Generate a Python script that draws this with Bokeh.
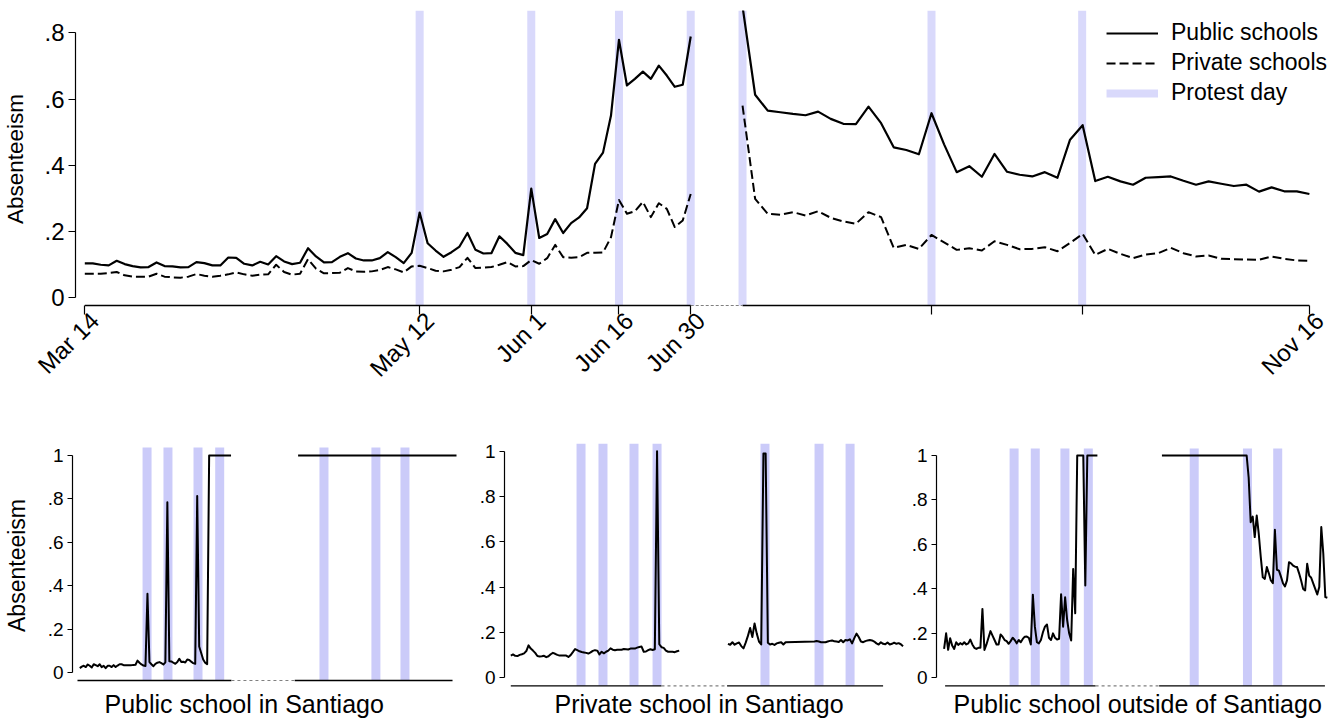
import math
from bokeh.plotting import figure
from bokeh.layouts import column, row
from bokeh.models import (Range1d, FixedTicker, CustomJSTickFormatter, Legend,
                          LegendItem, Title, LinearAxis)
from bokeh.embed import file_html
from bokeh.resources import INLINE

FONT = "Liberation Sans"
BAND_TOP = "#d9d9fb"
BAND_BOT = "#cbcbf9"

# ---------------- top panel data (x = school-day index) ----------------
TICK_POS = [0, 42, 56, 67, 76, 106.2, 125.1, 153.6]
TICK_LABELS = ["Mar 14", "May 12", "Jun 1", "Jun 16", "Jun 30", "", "", "Nov 16"]
PROTEST_TOP = [42, 56, 67, 76, 82.5, 106.2, 125.1]

x_seg1 = list(range(77))
pub_seg1 = [0.103, 0.103, 0.099, 0.097, 0.111, 0.101, 0.095, 0.091, 0.092, 0.106,
            0.095, 0.094, 0.091, 0.092, 0.107, 0.104, 0.097, 0.097, 0.121, 0.120,
            0.102, 0.097, 0.108, 0.100, 0.125, 0.109, 0.101, 0.105, 0.149, 0.124,
            0.106, 0.107, 0.123, 0.134, 0.118, 0.112, 0.112, 0.119, 0.137, 0.122,
            0.104, 0.135, 0.257, 0.164, 0.142, 0.123, 0.137, 0.154, 0.195, 0.144,
            0.133, 0.134, 0.185, 0.162, 0.135, 0.128, 0.329, 0.180, 0.192, 0.237,
            0.195, 0.225, 0.242, 0.270, 0.404, 0.438, 0.550, 0.779, 0.641, 0.661,
            0.683, 0.661, 0.701, 0.671, 0.637, 0.643, 0.789]
priv_seg1 = [0.072, 0.072, 0.072, 0.074, 0.077, 0.067, 0.063, 0.063, 0.063, 0.072,
             0.063, 0.061, 0.060, 0.063, 0.071, 0.066, 0.063, 0.066, 0.070, 0.076,
             0.070, 0.066, 0.069, 0.070, 0.099, 0.077, 0.069, 0.072, 0.116, 0.087,
             0.073, 0.074, 0.075, 0.089, 0.079, 0.078, 0.079, 0.083, 0.092, 0.085,
             0.076, 0.094, 0.096, 0.089, 0.081, 0.079, 0.084, 0.092, 0.120, 0.089,
             0.090, 0.092, 0.099, 0.107, 0.094, 0.095, 0.113, 0.102, 0.119, 0.159,
             0.122, 0.120, 0.122, 0.135, 0.135, 0.136, 0.182, 0.295, 0.253, 0.261,
             0.289, 0.243, 0.285, 0.268, 0.213, 0.233, 0.313]

x_seg2 = [82.5 + k * (153.6 - 82.5) / 45 for k in range(46)]
pub_seg2 = [0.88, 0.613, 0.565, 0.560, 0.555, 0.551, 0.562, 0.540, 0.525, 0.524,
            0.577, 0.527, 0.454, 0.446, 0.433, 0.557, 0.463, 0.379, 0.397, 0.365,
            0.434, 0.380, 0.371, 0.366, 0.379, 0.362, 0.477, 0.521, 0.352, 0.365,
            0.351, 0.341, 0.362, 0.364, 0.366, 0.353, 0.341, 0.351, 0.344, 0.337,
            0.341, 0.320, 0.333, 0.321, 0.321, 0.313]
priv_seg2 = [0.580, 0.298, 0.253, 0.250, 0.258, 0.248, 0.261, 0.241, 0.230, 0.223,
             0.258, 0.243, 0.150, 0.159, 0.147, 0.189, 0.167, 0.144, 0.149, 0.142,
             0.170, 0.159, 0.146, 0.147, 0.152, 0.140, 0.165, 0.192, 0.129, 0.147,
             0.132, 0.119, 0.130, 0.134, 0.150, 0.134, 0.124, 0.127, 0.117, 0.116,
             0.115, 0.114, 0.124, 0.117, 0.112, 0.111]
TOP_AXIS_SOLID = [(0, 76), (82.5, 153.6)]
TOP_AXIS_GAP = (76, 82.5)

# ---------------- bottom panels (x = day index) ----------------
P1_TITLE = "Public school in Santiago"
p1_x1 = list(range(77))
p1_y1 = [0.020, 0.027, 0.031, 0.025, 0.037, 0.031, 0.023, 0.038, 0.034, 0.029,
         0.038, 0.025, 0.031, 0.020, 0.031, 0.031, 0.025, 0.034, 0.025, 0.032,
         0.038, 0.038, 0.034, 0.034, 0.034, 0.034, 0.034, 0.035, 0.036, 0.055,
         0.045, 0.037, 0.032, 0.030, 0.363, 0.048, 0.038, 0.029, 0.040, 0.045,
         0.048, 0.043, 0.037, 0.047, 0.785, 0.052, 0.051, 0.045, 0.040, 0.048,
         0.063, 0.048, 0.050, 0.046, 0.060, 0.058, 0.050, 0.043, 0.040, 0.813,
         0.120, 0.090, 0.060, 0.045, 0.038, 1.0, 1.0, 1.0, 1.0, 1.0,
         1.0, 1.0, 1.0, 1.0, 1.0, 1.0, 1.0]
p1_x2 = [109.7, 189.3]
p1_y2 = [1.0, 1.0]
p1_protest = [33.8, 44.3, 59.4, 70.3, 122.7, 148.8, 163.4]
p1_axis_solid = [(-1.16, 76.2), (108.0, 187.3)]
p1_axis_gap = (76.2, 108.0)

P2_TITLE = "Private school in Santiago"
p2_x1 = list(range(77))
p2_y1 = [0.098, 0.103, 0.097, 0.096, 0.101, 0.104, 0.108, 0.118, 0.143, 0.129,
         0.120, 0.110, 0.096, 0.094, 0.095, 0.097, 0.091, 0.095, 0.104, 0.110,
         0.106, 0.101, 0.098, 0.098, 0.098, 0.098, 0.092, 0.100, 0.113, 0.127,
         0.122, 0.117, 0.114, 0.112, 0.110, 0.107, 0.112, 0.119, 0.122, 0.120,
         0.103, 0.115, 0.108, 0.115, 0.120, 0.130, 0.124, 0.122, 0.124, 0.124,
         0.124, 0.127, 0.126, 0.125, 0.129, 0.129, 0.129, 0.133, 0.136, 0.138,
         0.115, 0.116, 0.122, 0.126, 0.123, 0.126, 1.0, 0.148, 0.135, 0.132,
         0.120, 0.115, 0.115, 0.115, 0.113, 0.117, 0.120]
p2_x2 = list(range(98, 125)) + list(range(137, 178))
p2_y2 = [0.150, 0.146, 0.157, 0.146, 0.152, 0.156, 0.140, 0.130, 0.155, 0.185,
         0.220, 0.180, 0.240, 0.195, 0.160, 0.147, 0.99, 0.99, 0.155, 0.147,
         0.150, 0.145, 0.152, 0.155, 0.157, 0.147, 0.157,
         0.160, 0.162, 0.160, 0.157, 0.157, 0.157, 0.160, 0.163, 0.165, 0.161,
         0.160, 0.158, 0.167, 0.157, 0.167, 0.165, 0.170, 0.152, 0.175, 0.195,
         0.180, 0.160, 0.157, 0.162, 0.165, 0.167, 0.165, 0.160, 0.152, 0.147,
         0.157, 0.150, 0.148, 0.156, 0.147, 0.150, 0.155, 0.150, 0.153, 0.148,
         0.139]
p2_protest = [31.7, 41.6, 55.6, 66.0, 114.7, 139.1, 153.1]
p2_axis_solid = [(0, 68.0), (97.6, 168.0)]
p2_axis_gap = (68.0, 97.6)

P3_TITLE = "Public school outside of Santiago"
p3_x1 = list(range(77))
p3_y1 = [0.130, 0.200, 0.126, 0.178, 0.145, 0.130, 0.160, 0.148, 0.156, 0.150,
         0.160, 0.150, 0.155, 0.172, 0.150, 0.135, 0.130, 0.135, 0.135, 0.310,
         0.125, 0.150, 0.180, 0.210, 0.190, 0.170, 0.150, 0.150, 0.195, 0.185,
         0.170, 0.165, 0.153, 0.165, 0.180, 0.170, 0.155, 0.170, 0.160, 0.175,
         0.185, 0.186, 0.180, 0.150, 0.374, 0.230, 0.160, 0.155, 0.170, 0.205,
         0.230, 0.240, 0.180, 0.170, 0.200, 0.180, 0.172, 0.175, 0.376, 0.230,
         0.362, 0.260, 0.200, 0.168, 0.490, 0.290, 1.0, 1.0, 1.0, 1.0,
         0.415, 1.0, 1.0, 1.0, 1.0, 1.0, 1.0]
p3_x2 = [108, 150] + list(range(151, 191))
p3_y2 = [1.0, 1.0,
         0.90, 0.70, 0.725, 0.633, 0.730, 0.647, 0.543, 0.452, 0.445, 0.498,
         0.470, 0.438, 0.426, 0.666, 0.486, 0.482, 0.455, 0.425, 0.411, 0.438,
         0.520, 0.515, 0.505, 0.500, 0.498, 0.470, 0.438, 0.400, 0.393, 0.513,
         0.460, 0.450, 0.425, 0.400, 0.375, 0.408, 0.678, 0.558, 0.363, 0.360]
p3_protest = [34.7, 45.2, 59.9, 71.5, 124.0, 150.4, 165.4]
p3_axis_solid = [(0.5, 75.1), (106.6, 188.8)]
p3_axis_gap = (75.1, 106.6)

Y_TICKS_TOP = [0, 0.2, 0.4, 0.6, 0.8]
Y_TICKS_BOT = [0, 0.2, 0.4, 0.6, 0.8, 1.0]

FMT_CODE = """
const v = Math.round(tick * 10) / 10;
let s = v.toString();
if (s.startsWith("0.")) { s = s.slice(1); }
return s;
"""


def join(xa, ya, xb, yb):
    return list(xa) + [float("nan")] + list(xb), list(ya) + [float("nan")] + list(yb)


def base_fig(fw, fh, xr, yr, ml, mr, mt, mb):
    p = figure(frame_width=fw, frame_height=fh, x_range=Range1d(*xr), y_range=Range1d(*yr),
               min_border_left=ml, min_border_right=mr, min_border_top=mt, min_border_bottom=mb,
               output_backend="svg", toolbar_location=None)
    p.title.visible = False
    p.grid.visible = False
    p.outline_line_color = None
    p.background_fill_color = "white"
    p.border_fill_color = "white"
    return p


def style_yaxis(p, ticks, bounds, label, tick_len, label_size, title_size, title_standoff):
    ax = p.yaxis[0]
    ax.ticker = FixedTicker(ticks=ticks)
    ax.formatter = CustomJSTickFormatter(code=FMT_CODE)
    ax.bounds = bounds
    ax.axis_line_width = 1.2
    ax.major_tick_line_width = 1.2
    ax.major_tick_out = tick_len
    ax.major_tick_in = 0
    ax.minor_tick_line_color = None
    ax.major_label_standoff = 4
    ax.major_label_text_font = FONT
    ax.major_label_text_font_size = label_size
    ax.major_label_text_color = "black"
    if label:
        ax.axis_label = label
        ax.axis_label_text_font = FONT
        ax.axis_label_text_font_size = title_size
        ax.axis_label_text_font_style = "normal"
        ax.axis_label_text_color = "black"
        ax.axis_label_standoff = title_standoff


# ---------------- top figure ----------------
X0_TOP, X1_TOP = -1.166, 157.0
Y0_TOP, Y1_TOP = -0.0302, 0.8676
AXIS_Y_TOP = -0.0242
LABEL_SHIFT = 1.25   # date labels sit slightly right of their tick (about 10 px)
top = base_fig(1261, 297, (X0_TOP, X1_TOP), (Y0_TOP, Y1_TOP), 75, 7, 10, 123)

r_band = top.segment(x0=PROTEST_TOP, x1=PROTEST_TOP, y0=[AXIS_Y_TOP] * len(PROTEST_TOP),
                     y1=[Y1_TOP] * len(PROTEST_TOP), line_width=8, line_color=BAND_TOP)
top.segment(x0=[a for a, b in TOP_AXIS_SOLID], x1=[b for a, b in TOP_AXIS_SOLID],
            y0=[AXIS_Y_TOP] * 2, y1=[AXIS_Y_TOP] * 2, line_width=1.3, line_color="black")
top.segment(x0=[TOP_AXIS_GAP[0]], x1=[TOP_AXIS_GAP[1]], y0=[AXIS_Y_TOP], y1=[AXIS_Y_TOP],
            line_width=1.2, line_color="#808080", line_dash="3 2")

xp, yp = join(x_seg1, pub_seg1, x_seg2, pub_seg2)
r_pub = top.line(xp, yp, line_width=2.2, line_color="black", line_join="round")
xq, yq = join(x_seg1, priv_seg1, x_seg2, priv_seg2)
r_priv = top.line(xq, yq, line_width=2.0, line_color="black", line_dash="9 4", line_join="round")

# tick marks only
xa = top.xaxis[0]
xa.ticker = FixedTicker(ticks=TICK_POS)
xa.formatter = CustomJSTickFormatter(code='return "";')
xa.axis_line_color = None
xa.major_tick_line_width = 1.2
xa.major_tick_out = 7
xa.major_tick_in = 2
xa.minor_tick_line_color = None
xa.major_label_text_font_size = "1px"
xa.major_label_standoff = 0

# rotated date labels on a second axis (shifted range so labels end right of tick)
top.extra_x_ranges = {"lab": Range1d(X0_TOP - LABEL_SHIFT, X1_TOP - LABEL_SHIFT)}
lab_pos = [p for p, l in zip(TICK_POS, TICK_LABELS) if l]
lab_txt = [l for l in TICK_LABELS if l]
xl = LinearAxis(x_range_name="lab", ticker=FixedTicker(ticks=lab_pos),
                formatter=CustomJSTickFormatter(args=dict(pos=lab_pos, lab=lab_txt), code="""
for (let i = 0; i < pos.length; i++) { if (Math.abs(pos[i] - tick) < 1e-6) { return lab[i]; } }
return "";
"""))
xl.axis_line_color = None
xl.major_tick_line_color = None
xl.major_tick_out = 0
xl.major_tick_in = 0
xl.minor_tick_line_color = None
xl.major_label_orientation = math.pi / 4
xl.major_label_standoff = 2
xl.major_label_text_font = FONT
xl.major_label_text_font_size = "24px"
xl.major_label_text_color = "black"
top.add_layout(xl, "below")

style_yaxis(top, Y_TICKS_TOP, (0, 0.8), "Absenteeism", 7, "24px", "22.5px", 13)

legend = Legend(items=[LegendItem(label="Public schools", renderers=[r_pub]),
                       LegendItem(label="Private schools", renderers=[r_priv]),
                       LegendItem(label="Protest day", renderers=[r_band])],
                location="top_right", label_text_font=FONT, label_text_font_size="23px",
                label_text_color="black", glyph_width=52, glyph_height=22, spacing=3,
                label_standoff=13, padding=8, margin=9, border_line_color=None,
                background_fill_alpha=0)
top.add_layout(legend)


# ---------------- bottom figures (frames share top/bottom: 443 .. 687 px) ----------------
def bottom_panel(fw, xr, yr, band_top, axis_y, ml, mr, x1, y1, x2, y2, protest,
                 solid, gap, title, title_offset, ylabel):
    p = base_fig(fw, 244, xr, yr, ml, mr, 13, 34)
    p.segment(x0=protest, x1=protest, y0=[axis_y] * len(protest), y1=[band_top] * len(protest),
              line_width=9, line_color=BAND_BOT)
    p.segment(x0=[a for a, b in solid], x1=[b for a, b in solid], y0=[axis_y] * 2,
              y1=[axis_y] * 2, line_width=1.3, line_color="black")
    p.segment(x0=[gap[0]], x1=[gap[1]], y0=[axis_y], y1=[axis_y], line_width=1.2,
              line_color="#808080", line_dash="3 3")
    xs, ys = join(x1, y1, x2, y2)
    p.line(xs, ys, line_width=2.0, line_color="black", line_join="round")
    p.xaxis.visible = False
    style_yaxis(p, Y_TICKS_BOT, (0, 1), ylabel, 5, "19px", "23px", 15)
    t = Title(text=title, align="left", text_font=FONT, text_font_size="25px",
              text_font_style="normal", text_color="black", offset=title_offset, standoff=1)
    p.add_layout(t, "below")
    return p


p1 = bottom_panel(385, (-3.668, 189.8), (-0.0691, 1.0553), 1.0369, -0.0369, 71, 4,
                  p1_x1, p1_y1, p1_x2, p1_y2, p1_protest, p1_axis_solid, p1_axis_gap,
                  P1_TITLE, 32, "Absenteeism")
p2 = bottom_panel(400, (-2.843, 177.66), (-0.0428, 1.034), 1.034, -0.0353, 43, 1,
                  p2_x1, p2_y1, p2_x2, p2_y2, p2_protest, p2_axis_solid, p2_axis_gap,
                  P2_TITLE, 50, None)
p3 = bottom_panel(396, (-3.768, 192.56), (-0.0436, 1.054), 1.0315, -0.036, 31, 12,
                  p3_x1, p3_y1, p3_x2, p3_y2, p3_protest, p3_axis_solid, p3_axis_gap,
                  P3_TITLE, 17, None)

layout = column(top, row(p1, p2, p3, spacing=0), spacing=0)
open("out.html", "w").write(file_html(layout, INLINE))
